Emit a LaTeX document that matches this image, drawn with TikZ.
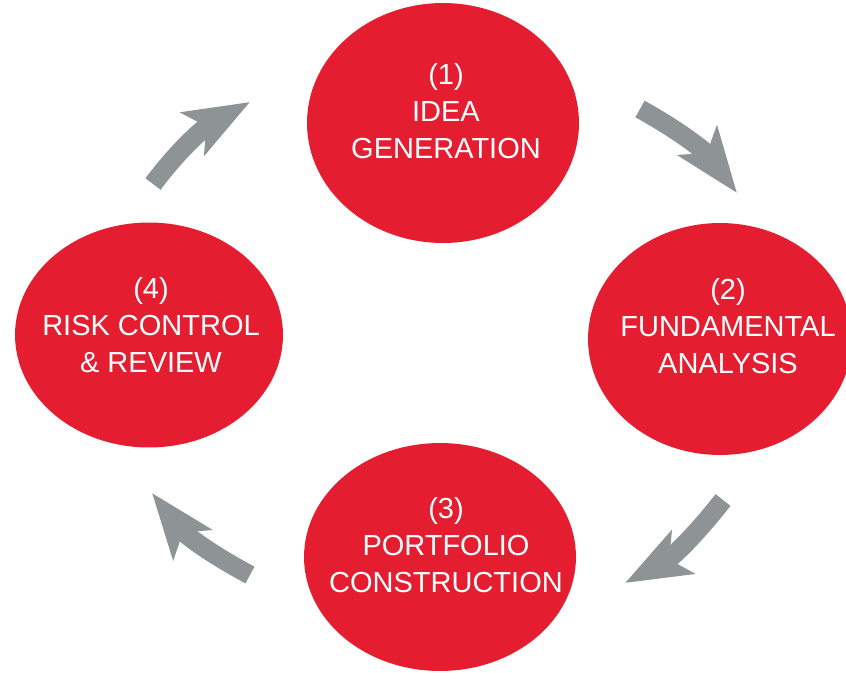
\documentclass[tikz,border=0pt]{standalone}
\usepackage{fontspec}
\setmainfont{Liberation Sans}
\usetikzlibrary{arrows.meta,shapes.geometric}

\definecolor{stagered}{RGB}{228,30,48}
\definecolor{flowgray}{RGB}{142,148,150}

\begin{document}
\begin{tikzpicture}[x=0.02cm, y=0.02cm, ->, >={Stealth[length=1.3cm, width=0.96cm, inset=0.3cm]},
                    stage/.style={ellipse, fill=stagered, draw=none, inner sep=0pt},
                    stagetext/.style={text=white, align=center, font=\fontsize{16.5}{21}\selectfont},
                    flow/.style={draw=flowgray, line width=0.38cm}]

                      \useasboundingbox (0,0) rectangle (846,-673);
                      \clip (0,0) rectangle (846,-673);

                      % the four stages
                      \node[stage, minimum width=5.44cm, minimum height=4.8cm]  (idea) at (443,-123) {};
                      \node[stage, minimum width=5.28cm, minimum height=4.64cm] (fund) at (720,-339) {};
                      \node[stage, minimum width=5.44cm, minimum height=4.56cm] (port) at (440,-557) {};
                      \node[stage, minimum width=5.36cm, minimum height=4.5cm]  (risk) at (149,-335) {};

                      \node[stagetext] (idea-txt) at ([shift={(3,12)}]idea.center) {(1)\\IDEA\\GENERATION};
                      \node[stagetext] (fund-txt) at ([shift={(8,13)}]fund.center) {(2)\\FUNDAMENTAL\\ANALYSIS};
                      \node[stagetext] (port-txt) at ([shift={(6,12)}]port.center) {(3)\\PORTFOLIO\\CONSTRUCTION};
                      \node[stagetext] (risk-txt) at ([shift={(2,10)}]risk.center) {(4)\\RISK CONTROL\\\& REVIEW};

                      % ends of the curved arrows between the stages
                      \coordinate (f1) at (153,-184); \coordinate (t1) at (250,-102);
                      \coordinate (f2) at (640,-109); \coordinate (t2) at (737,-193);
                      \coordinate (f3) at (723,-500); \coordinate (t3) at (625,-583);
                      \coordinate (f4) at (250,-575); \coordinate (t4) at (152,-493);

                      \path (f1) edge[flow, out=53,  in=209] (t1)
                            (f2) edge[flow, out=-29, in=127] (t2)
                            (f3) edge[flow, out=232, in=28]  (t3)
                            (f4) edge[flow, out=152, in=308] (t4);
                \end{tikzpicture}
\end{document}
